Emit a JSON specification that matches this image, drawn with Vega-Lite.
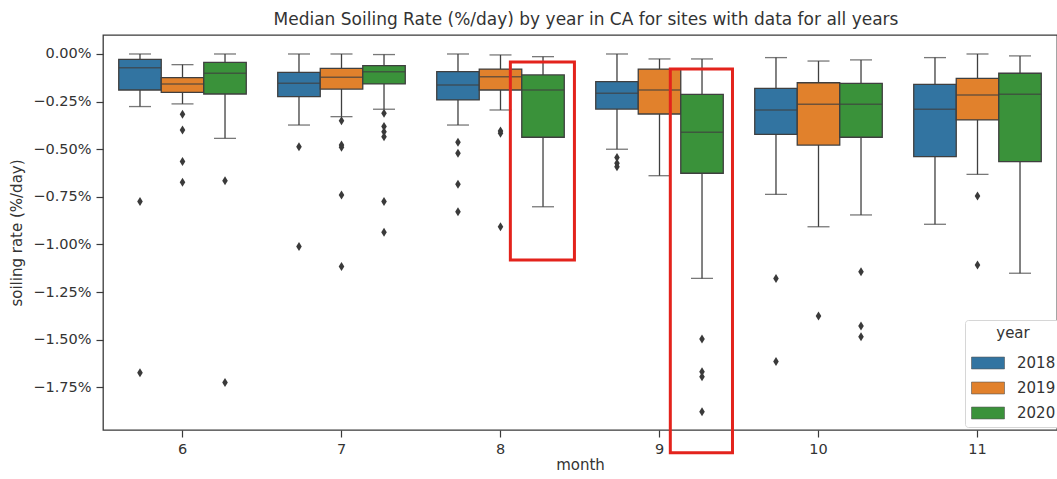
{
  "$schema": "https://vega.github.io/schema/vega-lite/v6.json",
  "width": 954,
  "height": 395,
  "autosize": {"type": "none"},
  "padding": {"left": 103, "top": 35, "right": 0, "bottom": 49},
  "background": "white",
  "config": {
    "font": "DejaVu Sans",
    "view": {"stroke": "#3a3a3a", "strokeWidth": 1.3},
    "axis": {
      "domain": false,
      "grid": false,
      "tickColor": "#3a3a3a",
      "tickSize": 7,
      "tickWidth": 1.2,
      "labelColor": "#333333",
      "labelFontSize": 14.5,
      "titleColor": "#333333",
      "titleFontSize": 15,
      "titleFontWeight": "normal",
      "labelPadding": 5
    }
  },
  "title": {
    "text": "Median Soiling Rate (%/day) by year in CA for sites with data for all years",
    "fontSize": 17,
    "fontWeight": "normal",
    "color": "#333333",
    "offset": 6,
    "dx": 6
  },
  "datasets": {
    "boxes": [
      {"month": 6, "year": 2018, "lower": -0.276, "q1": -0.189, "median": -0.072, "q3": -0.028, "upper": 0.0},
      {"month": 6, "year": 2019, "lower": -0.262, "q1": -0.201, "median": -0.157, "q3": -0.124, "upper": -0.056},
      {"month": 6, "year": 2020, "lower": -0.443, "q1": -0.210, "median": -0.101, "q3": -0.044, "upper": 0.0},
      {"month": 7, "year": 2018, "lower": -0.373, "q1": -0.224, "median": -0.154, "q3": -0.096, "upper": 0.0},
      {"month": 7, "year": 2019, "lower": -0.329, "q1": -0.184, "median": -0.122, "q3": -0.075, "upper": 0.0},
      {"month": 7, "year": 2020, "lower": -0.290, "q1": -0.157, "median": -0.093, "q3": -0.061, "upper": -0.003},
      {"month": 8, "year": 2018, "lower": -0.373, "q1": -0.241, "median": -0.163, "q3": -0.093, "upper": 0.0},
      {"month": 8, "year": 2019, "lower": -0.294, "q1": -0.189, "median": -0.119, "q3": -0.079, "upper": -0.005},
      {"month": 8, "year": 2020, "lower": -0.802, "q1": -0.437, "median": -0.189, "q3": -0.110, "upper": -0.014},
      {"month": 9, "year": 2018, "lower": -0.500, "q1": -0.289, "median": -0.206, "q3": -0.145, "upper": 0.0},
      {"month": 9, "year": 2019, "lower": -0.639, "q1": -0.315, "median": -0.189, "q3": -0.079, "upper": -0.026},
      {"month": 9, "year": 2020, "lower": -1.178, "q1": -0.626, "median": -0.411, "q3": -0.212, "upper": -0.026},
      {"month": 10, "year": 2018, "lower": -0.737, "q1": -0.422, "median": -0.294, "q3": -0.180, "upper": -0.019},
      {"month": 10, "year": 2019, "lower": -0.907, "q1": -0.478, "median": -0.264, "q3": -0.151, "upper": -0.037},
      {"month": 10, "year": 2020, "lower": -0.845, "q1": -0.437, "median": -0.264, "q3": -0.154, "upper": -0.031},
      {"month": 11, "year": 2018, "lower": -0.894, "q1": -0.539, "median": -0.290, "q3": -0.159, "upper": -0.019},
      {"month": 11, "year": 2019, "lower": -0.632, "q1": -0.346, "median": -0.215, "q3": -0.128, "upper": 0.0},
      {"month": 11, "year": 2020, "lower": -1.151, "q1": -0.565, "median": -0.212, "q3": -0.101, "upper": -0.010}
    ],
    "outliers": [
      {"month": 6, "year": 2018, "value": -0.775},
      {"month": 6, "year": 2018, "value": -1.673},
      {"month": 6, "year": 2019, "value": -0.317},
      {"month": 6, "year": 2019, "value": -0.399},
      {"month": 6, "year": 2019, "value": -0.565},
      {"month": 6, "year": 2019, "value": -0.673},
      {"month": 6, "year": 2020, "value": -0.665},
      {"month": 6, "year": 2020, "value": -1.724},
      {"month": 7, "year": 2018, "value": -0.487},
      {"month": 7, "year": 2018, "value": -1.011},
      {"month": 7, "year": 2019, "value": -0.350},
      {"month": 7, "year": 2019, "value": -0.478},
      {"month": 7, "year": 2019, "value": -0.490},
      {"month": 7, "year": 2019, "value": -0.740},
      {"month": 7, "year": 2019, "value": -1.116},
      {"month": 7, "year": 2020, "value": -0.311},
      {"month": 7, "year": 2020, "value": -0.381},
      {"month": 7, "year": 2020, "value": -0.408},
      {"month": 7, "year": 2020, "value": -0.434},
      {"month": 7, "year": 2020, "value": -0.775},
      {"month": 7, "year": 2020, "value": -0.936},
      {"month": 8, "year": 2018, "value": -0.464},
      {"month": 8, "year": 2018, "value": -0.521},
      {"month": 8, "year": 2018, "value": -0.684},
      {"month": 8, "year": 2018, "value": -0.828},
      {"month": 8, "year": 2019, "value": -0.404},
      {"month": 8, "year": 2019, "value": -0.416},
      {"month": 8, "year": 2019, "value": -0.907},
      {"month": 9, "year": 2018, "value": -0.544},
      {"month": 9, "year": 2018, "value": -0.574},
      {"month": 9, "year": 2018, "value": -0.592},
      {"month": 9, "year": 2020, "value": -1.496},
      {"month": 9, "year": 2020, "value": -1.668},
      {"month": 9, "year": 2020, "value": -1.694},
      {"month": 9, "year": 2020, "value": -1.878},
      {"month": 10, "year": 2018, "value": -1.178},
      {"month": 10, "year": 2018, "value": -1.615},
      {"month": 10, "year": 2019, "value": -1.375},
      {"month": 10, "year": 2020, "value": -1.143},
      {"month": 10, "year": 2020, "value": -1.428},
      {"month": 10, "year": 2020, "value": -1.484},
      {"month": 11, "year": 2019, "value": -0.745},
      {"month": 11, "year": 2019, "value": -1.108}
    ],
    "highlights": [
      {"x1": 8.062, "x2": 8.465, "top": -0.042, "bottom": -1.081},
      {"x1": 9.068, "x2": 9.459, "top": -0.079, "bottom": -2.094}
    ]
  },
  "layer": [
    {
      "encoding": {
        "x": {
          "field": "month",
          "type": "ordinal",
          "title": "month",
          "scale": {"paddingInner": 0, "paddingOuter": 0},
          "axis": {"labelAngle": 0, "labelPadding": 5, "titlePadding": 2}
        },
        "xOffset": {
          "field": "year",
          "type": "nominal",
          "scale": {"domain": [2018, 2019, 2020], "paddingInner": 0, "paddingOuter": 0.37}
        }
      },
      "layer": [
        {
          "data": {"name": "boxes"},
          "mark": {"type": "rule", "color": "#3f3f3f", "strokeWidth": 1.3},
          "encoding": {
            "y": {
              "field": "lower",
              "type": "quantitative",
              "title": "soiling rate (%/day)",
              "scale": {"domain": [-1.974, 0.0997], "nice": false, "zero": false},
              "axis": {
                "values": [0, -0.25, -0.5, -0.75, -1, -1.25, -1.5, -1.75],
                "labelExpr": "format(datum.value, '.2f') + '%'",
                "titlePadding": 8
              }
            },
            "y2": {"field": "upper"}
          }
        },
        {
          "data": {"name": "boxes"},
          "mark": {"type": "tick", "color": "#3f3f3f", "thickness": 1.3, "size": 22},
          "encoding": {
            "y": {"field": "lower", "type": "quantitative", "title": "soiling rate (%/day)"}
          }
        },
        {
          "data": {"name": "boxes"},
          "mark": {"type": "tick", "color": "#3f3f3f", "thickness": 1.3, "size": 22},
          "encoding": {
            "y": {"field": "upper", "type": "quantitative", "title": "soiling rate (%/day)"}
          }
        },
        {
          "data": {"name": "boxes"},
          "mark": {"type": "bar", "stroke": "#3f3f3f", "strokeWidth": 1.3, "opacity": 1},
          "encoding": {
            "y": {"field": "q1", "type": "quantitative", "title": "soiling rate (%/day)"},
            "y2": {"field": "q3"},
            "color": {
              "field": "year",
              "type": "nominal",
              "scale": {"domain": [2018, 2019, 2020], "range": ["#3274a1", "#e1812c", "#3a923a"]},
              "legend": {
                "orient": "none",
                "legendX": 862,
                "legendY": 285,
                "title": "year",
                "titleFontSize": 15,
                "titleFontWeight": "normal",
                "titleColor": "#333333",
                "titleAnchor": "middle",
                "titlePadding": 5,
                "labelFontSize": 15,
                "labelColor": "#333333",
                "symbolType": "M-1,-0.36H1V0.36H-1Z",
                "symbolSize": 1089,
                "symbolStrokeColor": "#555555",
                "symbolStrokeWidth": 0.6,
                "symbolOpacity": 1,
                "labelOffset": 12,
                "padding": 6,
                "rowPadding": -1,
                "strokeColor": "#d6d6d6",
                "fillColor": "white",
                "cornerRadius": 3
              }
            }
          }
        },
        {
          "data": {"name": "boxes"},
          "mark": {"type": "tick", "color": "#3f3f3f", "thickness": 1.5, "size": 42},
          "encoding": {
            "y": {"field": "median", "type": "quantitative", "title": "soiling rate (%/day)"}
          }
        },
        {
          "data": {"name": "outliers"},
          "mark": {"type": "point", "shape": "M0,-1L0.62,0L0,1L-0.62,0Z", "filled": true, "color": "#3a3a3a", "opacity": 1, "size": 81},
          "encoding": {
            "y": {"field": "value", "type": "quantitative", "title": "soiling rate (%/day)"}
          }
        }
      ]
    },
    {
      "data": {"name": "highlights"},
      "mark": {"type": "rect", "filled": false, "stroke": "#e3231c", "strokeWidth": 3, "clip": false},
      "encoding": {
        "x": {"field": "x1", "type": "quantitative", "scale": {"domain": [5.5, 11.5], "nice": false, "zero": false}, "axis": null},
        "x2": {"field": "x2"},
        "y": {"field": "top", "type": "quantitative", "title": "soiling rate (%/day)"},
        "y2": {"field": "bottom"}
      }
    }
  ],
  "resolve": {"scale": {"x": "independent"}}
}
